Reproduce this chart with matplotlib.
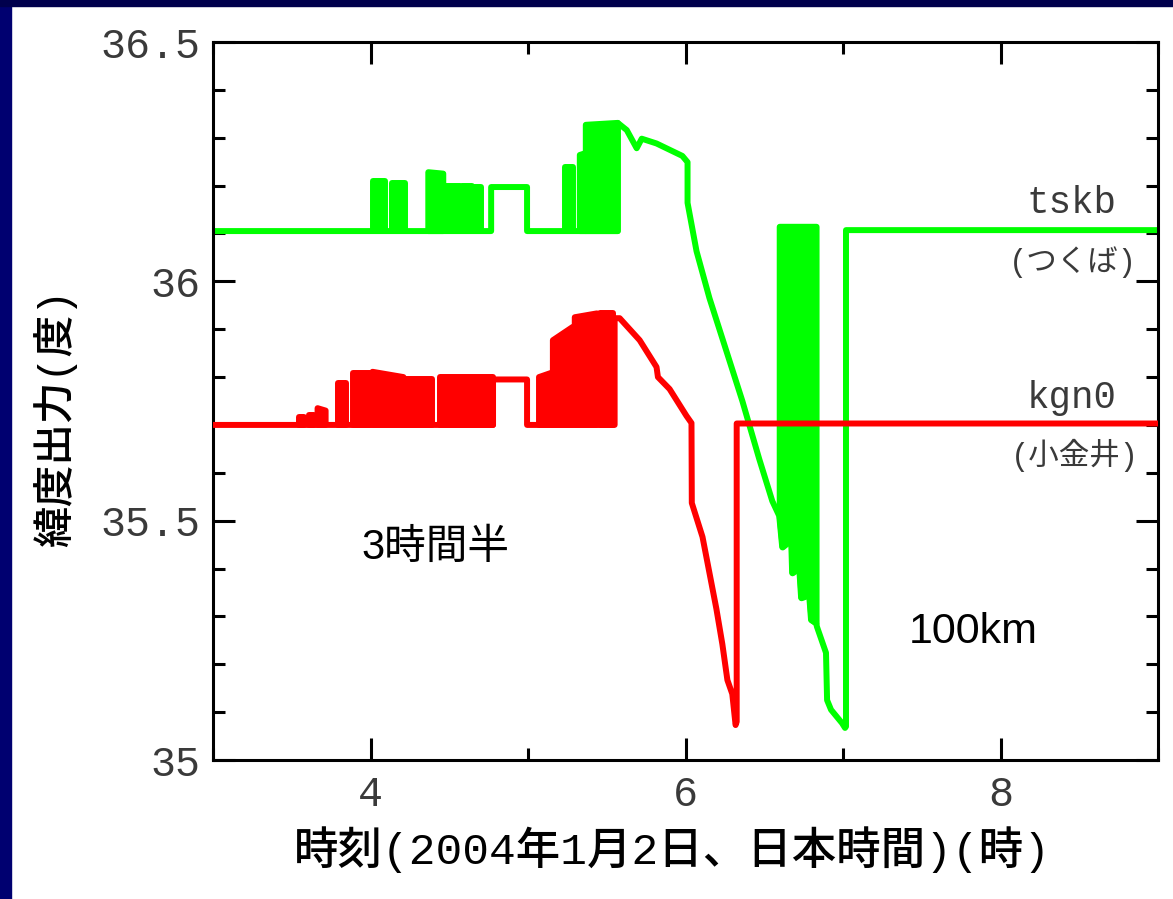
import numpy as np
import matplotlib
matplotlib.use('Agg')
import matplotlib.pyplot as plt
from matplotlib.patches import Rectangle
from matplotlib.ticker import MultipleLocator, FuncFormatter

# tskb (tsukuba) - green, baseline + smooth parts
green_t_a = [3.0, 4.766, 4.766, 4.994, 4.994, 5.57, 5.57, 5.627, 5.69, 5.722, 5.816, 5.98, 6.013, 6.013,
             6.07, 6.152, 6.259, 6.361, 6.468, 6.551]
green_v_a = [36.105, 36.105, 36.197, 36.197, 36.105, 36.105, 36.331, 36.316, 36.278, 36.298, 36.288, 36.262,
             36.249, 36.164, 36.063, 35.965, 35.855, 35.75, 35.629, 35.541]
# lower edge of the dense block 6.6-6.83 h
green_wall_t = [6.595, 6.614, 6.671, 6.677, 6.722, 6.734, 6.785, 6.797, 6.829]
green_wall_v = [35.51, 35.445, 35.46, 35.391, 35.401, 35.339, 35.345, 35.293, 35.286]
green_wall_top = 36.115
green_t_b = [6.835, 6.892, 6.899, 6.924, 6.994, 7.013, 7.019, 7.019, 9.0]
green_v_b = [35.278, 35.224, 35.125, 35.105, 35.077, 35.067, 35.07, 36.107, 36.107]
green_base = 36.105
# bursts of fast switching (start, end, top at start, top at end)
green_b_t0 = [4.013, 4.139, 4.367, 4.462, 4.58, 4.65, 5.234, 5.329, 5.367]
green_b_t1 = [4.095, 4.222, 4.462, 4.57, 4.645, 4.70, 5.285, 5.367, 5.57]
green_b_top0 = [36.21, 36.205, 36.228, 36.20, 36.20, 36.197, 36.239, 36.264, 36.327]
green_b_top1 = [36.21, 36.205, 36.225, 36.20, 36.20, 36.197, 36.239, 36.268, 36.331]

# kgn0 (koganei) - red
red_t = [3.0, 4.778, 4.778, 4.994, 4.994, 5.55, 5.55, 5.582, 5.709, 5.816, 5.825, 5.899, 6.006, 6.038,
         6.040, 6.108, 6.152, 6.196, 6.234, 6.266, 6.297, 6.318, 6.325, 6.325, 9.0]
red_v = [35.70, 35.70, 35.795, 35.795, 35.70, 35.70, 35.923, 35.923, 35.877, 35.821, 35.80, 35.775, 35.719,
         35.704, 35.537, 35.466, 35.391, 35.316, 35.242, 35.167, 35.138, 35.073, 35.08, 35.703, 35.703]
red_base = 35.70
red_b_t0 = [3.544, 3.607, 3.664, 3.791, 3.886, 4.013, 4.209, 4.443, 5.07, 5.158, 5.297, 5.456]
red_b_t1 = [3.576, 3.639, 3.715, 3.842, 3.994, 4.209, 4.392, 4.778, 5.158, 5.285, 5.437, 5.538]
red_b_top0 = [35.716, 35.72, 35.735, 35.788, 35.809, 35.811, 35.795, 35.80, 35.80, 35.877, 35.925, 35.933]
red_b_top1 = [35.716, 35.72, 35.73, 35.788, 35.809, 35.80, 35.795, 35.80, 35.81, 35.905, 35.933, 35.933]

GREEN = '#00ff00'
RED = '#ff0000'
LW = 4.3
TXT = '#3a3a3a'

fig = plt.figure(figsize=(11.73, 8.99), dpi=100, facecolor='white')
# navy slide border (left and top)
fig.patches.append(Rectangle((0, 0), 11 / 1173, 1, transform=fig.transFigure, color='#000070', zorder=0))
fig.patches.append(Rectangle((0, 1 - 6 / 899), 1, 6 / 899, transform=fig.transFigure, color='#00004d', zorder=0))

ax = fig.add_axes([213 / 1173, 139 / 899, 945 / 1173, 718 / 899])


def draw_bursts(t0s, t1s, tops0, tops1, base, color):
    for t0, t1, a, b in zip(t0s, t1s, tops0, tops1):
        ax.fill([t0, t0, t1, t1], [base, a, b, base], facecolor=color, edgecolor=color,
                lw=LW, joinstyle='round', zorder=2)


# green
draw_bursts(green_b_t0, green_b_t1, green_b_top0, green_b_top1, green_base, GREEN)
ax.fill_between(green_wall_t, green_wall_v, green_wall_top, facecolor=GREEN, edgecolor=GREEN, lw=LW, zorder=2)
green_t = green_t_a + green_wall_t + green_t_b
green_v = green_v_a + green_wall_v + green_v_b
ax.plot(green_t, green_v, color=GREEN, lw=LW, solid_joinstyle='round', zorder=2)

# red on top
draw_bursts(red_b_t0, red_b_t1, red_b_top0, red_b_top1, red_base, RED)
ax.plot(red_t, red_v, color=RED, lw=LW, solid_joinstyle='round', zorder=3)

ax.set_xlim(3, 9)
ax.set_ylim(35, 36.5)
ax.xaxis.set_major_locator(MultipleLocator(2))
ax.xaxis.set_minor_locator(MultipleLocator(1))
ax.yaxis.set_major_locator(MultipleLocator(0.5))
ax.yaxis.set_minor_locator(MultipleLocator(0.1))
ax.yaxis.set_major_formatter(FuncFormatter(lambda v, p: '{:g}'.format(v)))
ax.xaxis.set_major_formatter(FuncFormatter(lambda v, p: '{:g}'.format(v)))
ax.tick_params(which='both', direction='in', top=True, right=True, width=2.2, color='black')
ax.tick_params(which='major', length=16)
ax.tick_params(which='minor', length=8.5)
ax.tick_params(axis='y', which='major', pad=9)
ax.tick_params(axis='x', which='major', pad=11)
for lab in ax.get_xticklabels() + ax.get_yticklabels():
    lab.set_family('Liberation Mono')
    lab.set_fontsize(30)
    lab.set_color(TXT)
for sp in ax.spines.values():
    sp.set_linewidth(2.2)
    sp.set_color('black')

mono_jp = ['Liberation Mono', 'Noto Sans CJK JP']
sans_jp = ['Liberation Sans', 'Noto Sans CJK JP']

ax.text(8.45, 36.164, 'tskb', family='Liberation Mono', fontsize=27, color=TXT, ha='center', va='center')
ax.text(8.46, 36.04, '(つくば)', family=mono_jp, fontsize=22, color=TXT, ha='center', va='center')
ax.text(8.45, 35.756, 'kgn0', family='Liberation Mono', fontsize=27, color=TXT, ha='center', va='center')
ax.text(8.47, 35.637, '(小金井)', family=mono_jp, fontsize=22, color=TXT, ha='center', va='center')

ax.text(3.94, 35.443, '3時間半', family=sans_jp, fontsize=30, color='black', ha='left', va='center')
ax.text(7.42, 35.268, '100km', family=sans_jp, fontsize=31, color='black', ha='left', va='center')

fig.text(672 / 1173, 1 - 850 / 899, '時刻(2004年1月2日、日本時間)(時)', family=mono_jp, fontsize=32,
         weight='medium', color='black', ha='center', va='center')
fig.text(55 / 1173, 1 - 418 / 899, '緯度出力(度)', family=mono_jp, fontsize=30, weight='medium',
         color='black', ha='center', va='center', rotation=90)

fig.savefig('out.png', dpi=100, facecolor='white')
